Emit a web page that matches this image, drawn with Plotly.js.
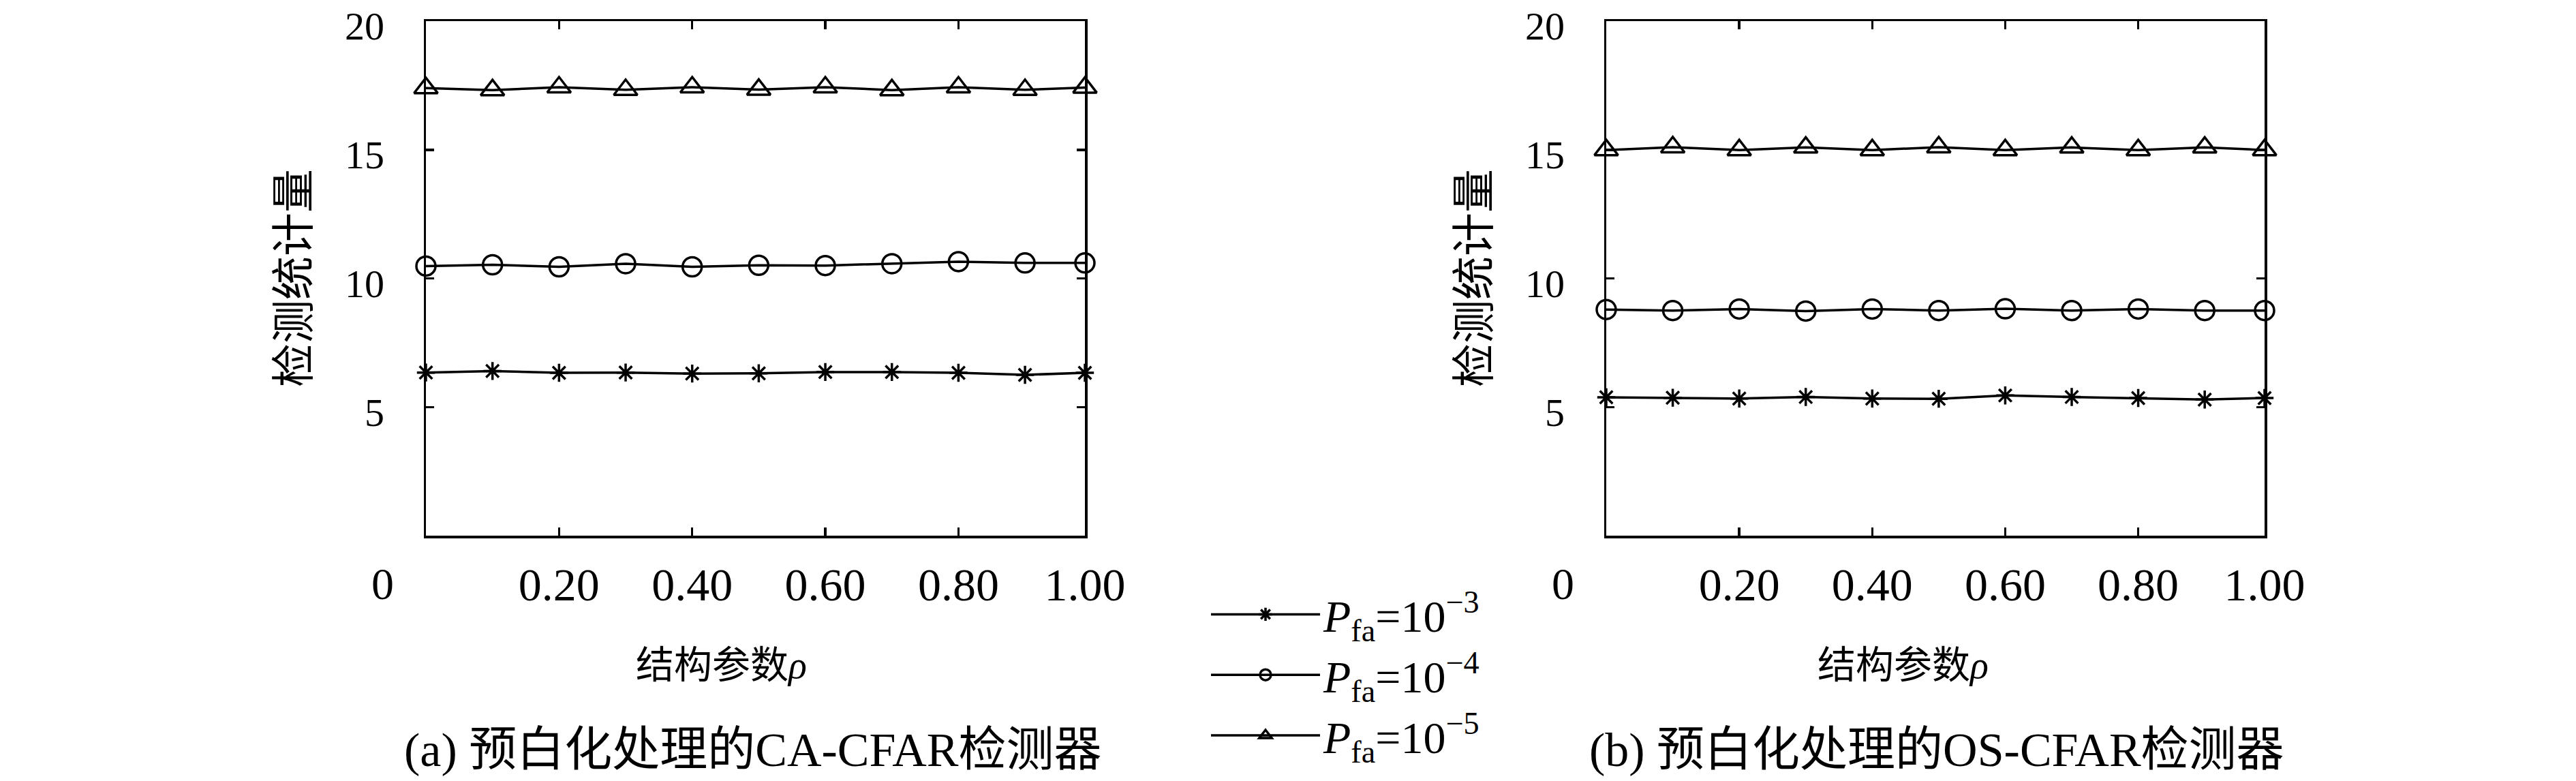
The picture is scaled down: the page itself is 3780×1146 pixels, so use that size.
<!DOCTYPE html>
<html>
<head>
<meta charset="utf-8">
<script src="https://cdn.plot.ly/plotly-3.0.1.min.js"></script>
<style>html,body{margin:0;padding:0;background:#fff}</style>
</head>
<body>
<div id="chart" style="width:3780px;height:1146px"></div>
<script>
// structure parameter rho
const rho = [0, 0.1, 0.2, 0.3, 0.4, 0.5, 0.6, 0.7, 0.8, 0.9, 0.99];

// (a) CA-CFAR
const caPfa3 = [6.34, 6.40, 6.33, 6.34, 6.30, 6.31, 6.36, 6.36, 6.33, 6.25, 6.33];
const caPfa4 = [10.48, 10.53, 10.45, 10.57, 10.45, 10.51, 10.50, 10.57, 10.65, 10.60, 10.60];
const caPfa5 = [17.40, 17.32, 17.43, 17.33, 17.43, 17.34, 17.43, 17.32, 17.43, 17.33, 17.42];

// (b) OS-CFAR
const osPfa3 = [5.38, 5.36, 5.33, 5.39, 5.33, 5.32, 5.45, 5.39, 5.35, 5.29, 5.35];
const osPfa4 = [8.79, 8.75, 8.81, 8.73, 8.81, 8.75, 8.82, 8.75, 8.81, 8.75, 8.75];
const osPfa5 = [14.99, 15.10, 14.99, 15.09, 14.99, 15.10, 14.99, 15.09, 14.99, 15.09, 14.99];

const names = [
    '<i>P</i><sub>fa</sub>=10<sup>−3</sup>',
    '<i>P</i><sub>fa</sub>=10<sup>−4</sup>',
    '<i>P</i><sub>fa</sub>=10<sup>−5</sup>'
];
const xTickVals = [0.2, 0.4, 0.6, 0.8, 0.99];
const xTickText = ['0.20', '0.40', '0.60', '0.80', '1.00'];
const yTickVals = [5, 10, 15, 20];
const yTickText = ['5', '10', '15', '20'];

const W = 3780, H = 1146;
const serif = 'Liberation Serif, Noto Sans CJK SC';

function trace(y, sym, size, i, xa, ya, show){
    return {
        x: rho, y: y, xaxis: xa, yaxis: ya,
        mode: 'lines+markers', name: names[i], showlegend: show,
        cliponaxis: false,
        line: {color: '#000', width: 3.5},
        marker: {symbol: sym, size: size, color: '#000', line: {color: '#000', width: 3.5}}
    };
}

const data = [
    trace(caPfa3, 'asterisk-open', 22, 0, 'x', 'y', true),
    trace(caPfa4, 'circle-open', 28, 1, 'x', 'y', true),
    trace(caPfa5, 'triangle-up-open', 30, 2, 'x', 'y', true),
    trace(osPfa3, 'asterisk-open', 22, 0, 'x2', 'y2', false),
    trace(osPfa4, 'circle-open', 28, 1, 'x2', 'y2', false),
    trace(osPfa5, 'triangle-up-open', 30, 2, 'x2', 'y2', false)
];

function xax(dom){
    return {
        domain: dom, range: [0, 0.99],
        tickvals: xTickVals, ticktext: xTickText,
        ticks: 'inside', ticklen: 12, tickwidth: 3.5, tickcolor: '#000',
        showline: true, linewidth: 3.5, linecolor: '#000', mirror: 'ticks',
        showgrid: false, zeroline: false, ticklabelstandoff: 10,
        ticklabeloverflow: 'allow',
        tickfont: {family: serif, size: 68, color: '#000'}
    };
}
function yax(anchor){
    return {
        anchor: anchor, domain: [1 - 786 / H, 1 - 31 / H], range: [0, 20],
        tickvals: yTickVals, ticktext: yTickText,
        ticks: 'inside', ticklen: 12, tickwidth: 3.5, tickcolor: '#000',
        showline: true, linewidth: 3.5, linecolor: '#000', mirror: 'ticks',
        showgrid: false, zeroline: false, ticklabelstandoff: 46,
        ticklabelshift: 7, ticklabeloverflow: 'allow',
        tickfont: {family: serif, size: 58, color: '#000'}
    };
}

function note(text, px, py, size, angle){
    return {
        text: text, xref: 'paper', yref: 'paper', x: px / W, y: 1 - py / H,
        xanchor: 'center', yanchor: 'middle', showarrow: false, textangle: angle || 0,
        font: {family: serif, size: size, color: '#000'}
    };
}

const layout = {
    width: W, height: H,
    margin: {l: 0, r: 0, t: 0, b: 0},
    paper_bgcolor: '#fff', plot_bgcolor: '#fff',
    xaxis: xax([625 / W, 1592 / W]),
    yaxis: yax('x'),
    xaxis2: xax([2357 / W, 3323 / W]),
    yaxis2: yax('x2'),
    showlegend: true,
    legend: {
        x: 1772 / W, y: 1 - 852 / H, xanchor: 'left', yanchor: 'top',
        font: {family: serif, size: 66, color: '#000'},
        itemwidth: 160, bgcolor: 'rgba(0,0,0,0)', borderwidth: 0
    },
    annotations: [
        note('0', 561, 856, 66),
        note('0', 2293, 856, 66),
        note('检测统计量', 432, 408, 64, -90),
        note('检测统计量', 2164, 408, 64, -90),
        note('结构参数<i>ρ</i>', 1058, 976, 56),
        note('结构参数<i>ρ</i>', 2792, 976, 56),
        note('(a) 预白化处理的CA-CFAR检测器', 1104, 1100, 70),
        note('(b) 预白化处理的OS-CFAR检测器', 2842, 1100, 70)
    ]
};

Plotly.newPlot('chart', data, layout, {staticPlot: true});
</script>
</body>
</html>
